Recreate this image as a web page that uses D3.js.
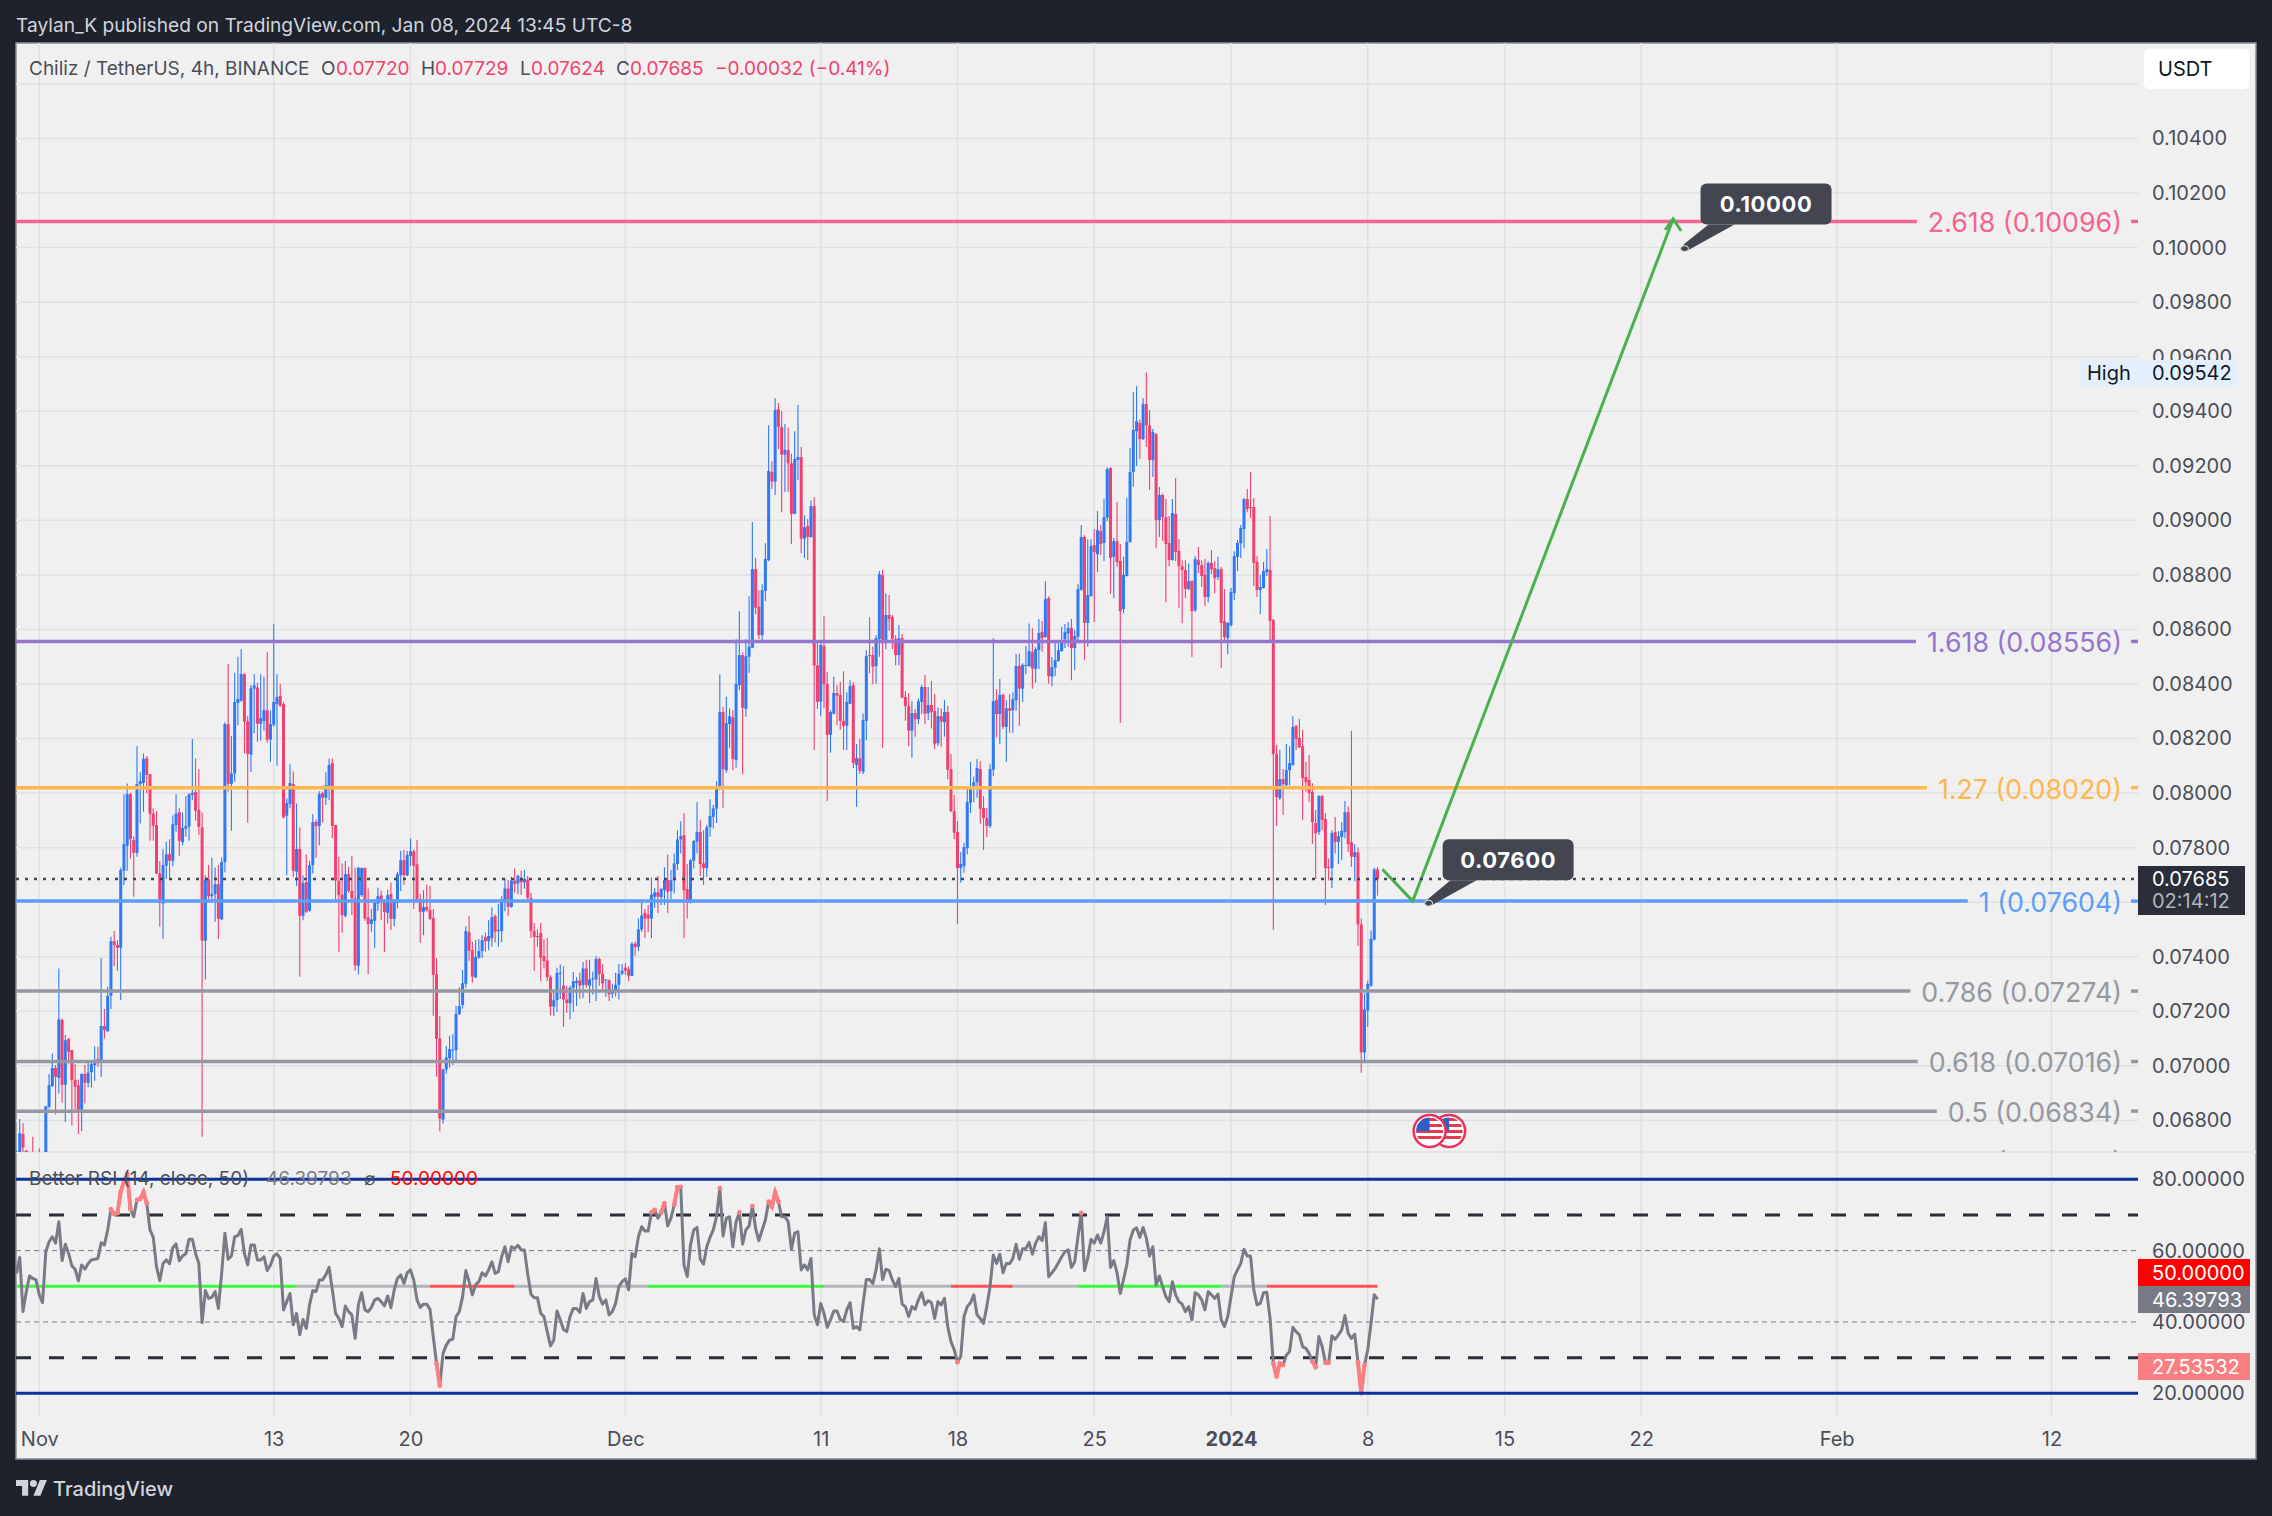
<!DOCTYPE html>
<html><head><meta charset="utf-8">
<script src="https://cdn.jsdelivr.net/npm/d3@7"></script>
<style>
html,body{margin:0;padding:0;background:#1e222d}
svg{display:block}
text{font-family:Inter,"Noto Sans",sans-serif}
</style></head><body><svg id="c" width="2272" height="1516"></svg>
<script>
// ---------- data (prices in 1e-5 USDT) ----------
const firstBar = -7;            // bars counted from Nov 1 00:00, 4h each
// [open, high, low, close]
const candles = [
[6680,6690,6670,6685],[6680,6805,6670,6753],[6750,6790,6680,6700],[6690,6685,6660,6670],[6670,6685,6650,6660],[6680,6740,6650,6665],[6665,6685,6640,6650],[6655,6697,6630,6640],[6640,6680,6620,6635],
[6635,6852,6625,6852],[6850,6970,6844,6929],[6926,7045,6923,6992],[6992,7003,6822,6960],[6956,7357,6899,7170],[7168,7174,6865,6931],[6931,7113,6794,7094],[7098,7103,7009,7052],[7058,7058,6781,6948],[6948,7006,6840,6923],
[6929,6950,6750,6838],[6840,6973,6761,6970],[6970,7003,6862,6938],[6938,7019,6921,6975],[6977,7021,6921,7006],[7003,7072,6945,7021],[7025,7070,6997,7012],[7011,7395,6960,7146],[7146,7208,7100,7131],[7127,7290,7125,7256],
[7257,7473,7208,7457],[7457,7494,7366,7443],[7443,7461,7349,7433],[7433,7726,7241,7718],[7715,7996,7663,7813],[7807,8035,7715,7996],[7996,8001,7760,7831],[7828,7842,7620,7781],[7781,8172,7767,8033],[8033,8076,7889,8044],
[8038,8145,7932,8125],[8128,8136,7999,8067],[8070,8070,7825,7924],[7925,7944,7825,7880],[7883,7934,7703,7705],[7705,7751,7510,7598],[7595,7795,7466,7736],[7734,7822,7685,7776],[7776,7831,7683,7752],[7752,7919,7732,7886],
[7883,7996,7858,7925],[7930,7944,7769,7825],[7820,7929,7809,7872],[7869,7989,7840,7879],[7877,7999,7825,7996],[7993,8198,7974,8001],[8004,8127,7899,7935],[7938,8088,7846,7877],[7874,7929,6740,7459],[7459,7699,7317,7683],
[7683,7736,7608,7622],[7622,7763,7608,7630],[7630,7727,7528,7666],[7666,7736,7466,7539],[7537,7764,7534,7747],[7747,8260,7710,8253],[8253,8473,8005,8034],[8034,8209,7862,8072],[8072,8441,8042,8334],[8331,8500,8249,8345],
[8339,8528,8335,8436],[8436,8439,8145,8262],[8263,8282,7891,8144],[8141,8396,8077,8384],[8383,8436,8219,8395],[8387,8405,8188,8254],[8254,8436,8192,8275],[8264,8427,8229,8304],[8304,8517,8185,8196],[8196,8302,8115,8253],
[8251,8620,8243,8334],[8326,8436,8100,8352],[8356,8400,8317,8320],[8326,8335,7907,7911],[7917,7980,7699,7963],[7960,8106,7944,8037],[8033,8079,7693,7715],[7712,7962,7660,7795],[7795,7874,7327,7550],[7550,7699,7534,7670],
[7674,7775,7560,7565],[7569,7752,7565,7736],[7736,7923,7705,7894],[7894,7903,7763,7879],[7879,8007,7809,7996],[8000,8005,7892,7983],[7983,8076,7956,8029],[8027,8127,7974,8103],[8110,8127,7835,7880],[7883,7883,7608,7679],
[7679,7767,7418,7626],[7628,7742,7488,7553],[7550,7751,7544,7703],[7703,7730,7635,7641],[7641,7769,7553,7614],[7614,7726,7349,7369],[7367,7730,7336,7726],[7626,7727,7620,7725],[7725,7727,7532,7540],[7544,7650,7336,7520],
[7521,7575,7492,7537],[7532,7608,7433,7598],[7595,7654,7569,7622],[7625,7642,7534,7600],[7604,7610,7418,7564],[7561,7647,7522,7626],[7630,7672,7498,7539],[7539,7610,7512,7602],[7598,7712,7577,7703],[7699,7789,7641,7754],
[7754,7791,7663,7699],[7699,7789,7695,7773],[7770,7834,7732,7787],[7787,7793,7575,7734],[7739,7828,7602,7608],[7611,7630,7451,7565],[7565,7644,7479,7582],[7582,7665,7565,7571],[7571,7659,7534,7539],[7542,7575,7184,7334],
[7336,7395,6960,7099],[7100,7182,6760,6807],[6803,6990,6789,6987],[6987,7074,6972,7031],[7028,7110,6994,7061],[7058,7116,7003,7060],[7058,7219,7015,7190],[7190,7287,7186,7219],[7223,7351,7210,7303],[7301,7512,7286,7494],
[7490,7549,7385,7422],[7424,7455,7305,7327],[7324,7461,7322,7399],[7396,7465,7394,7421],[7421,7479,7396,7461],[7472,7489,7418,7457],[7457,7534,7424,7476],[7468,7581,7437,7545],[7549,7556,7452,7492],[7494,7593,7437,7498],
[7494,7622,7454,7610],[7608,7687,7567,7650],[7650,7681,7549,7583],[7583,7693,7580,7679],[7679,7724,7635,7666],[7669,7701,7629,7697],[7685,7715,7626,7673],[7673,7718,7650,7685],[7683,7696,7600,7616],[7615,7635,7469,7494],
[7494,7524,7349,7473],[7476,7500,7437,7472],[7487,7524,7310,7397],[7402,7465,7357,7384],[7386,7469,7310,7325],[7325,7333,7185,7217],[7217,7278,7182,7241],[7241,7360,7198,7341],[7338,7372,7245,7341],[7294,7365,7143,7243],
[7243,7294,7195,7230],[7230,7294,7171,7286],[7286,7344,7198,7310],[7303,7325,7220,7312],[7313,7341,7246,7294],[7297,7381,7249,7357],[7357,7389,7286,7297],[7294,7389,7230,7317],[7317,7346,7262,7321],[7317,7402,7238,7392],
[7392,7397,7294,7337],[7338,7373,7278,7302],[7314,7317,7253,7317],[7314,7317,7238,7262],[7265,7301,7249,7278],[7278,7341,7254,7297],[7297,7373,7243,7338],[7338,7373,7333,7349],[7360,7376,7333,7349],[7354,7365,7310,7330],
[7330,7453,7329,7448],[7448,7456,7405,7435],[7437,7540,7421,7500],[7500,7604,7492,7551],[7561,7575,7469,7540],[7555,7590,7490,7540],[7540,7691,7469,7628],[7620,7651,7580,7636],[7636,7697,7560,7620],[7618,7651,7590,7648],
[7644,7728,7590,7681],[7681,7775,7560,7638],[7641,7718,7600,7681],[7681,7779,7632,7742],[7740,7864,7718,7830],[7830,7897,7779,7842],[7846,7926,7468,7644],[7648,7740,7540,7604],[7604,7758,7595,7754],[7752,7828,7724,7824],
[7822,7966,7779,7857],[7857,7901,7696,7740],[7742,7864,7663,7725],[7725,7883,7693,7875],[7875,7977,7840,7916],[7913,7956,7870,7944],[7943,8044,7891,8020],[8017,8436,8011,8297],[8297,8317,7946,8088],[8084,8353,8075,8256],
[8253,8311,8166,8282],[8278,8304,8084,8125],[8121,8564,8093,8400],[8396,8667,8378,8506],[8506,8516,8070,8313],[8309,8564,8280,8502],[8500,8722,8441,8537],[8533,8994,8531,8821],[8821,8863,8656,8680],[8683,8744,8565,8579],
[8579,8766,8559,8744],[8742,8916,8704,8858],[8854,9349,8850,9181],[9177,9217,9115,9142],[9142,9448,9093,9404],[9408,9430,9261,9343],[9342,9401,9030,9241],[9241,9353,9104,9258],[9258,9340,9105,9209],[9209,9243,8913,9024],
[9024,9327,9022,9225],[9221,9423,9148,9232],[9232,9269,8879,8933],[8933,9019,8862,8975],[8979,9005,8854,8939],[8939,9074,8936,9052],[9052,9085,8158,8468],[8468,8561,8308,8335],[8335,8549,8284,8543],[8539,8649,8311,8399],
[8400,8444,7971,8214],[8214,8304,8148,8297],[8291,8427,8288,8367],[8367,8396,8249,8357],[8359,8407,8231,8265],[8264,8447,8158,8247],[8247,8370,8158,8334],[8328,8414,8326,8392],[8396,8407,8091,8111],[8103,8180,7950,8128],
[8128,8198,8070,8082],[8078,8292,8070,8268],[8265,8524,8194,8502],[8506,8645,8439,8502],[8506,8537,8400,8463],[8466,8579,8402,8568],[8565,8814,8500,8803],[8799,8818,8165,8549],[8552,8732,8527,8653],[8653,8726,8595,8638],
[8645,8653,8528,8565],[8565,8579,8469,8506],[8506,8616,8469,8568],[8568,8583,8348,8350],[8352,8374,8265,8319],[8319,8366,8172,8229],[8229,8337,8130,8293],[8293,8308,8207,8271],[8271,8347,8253,8337],[8334,8396,8290,8389],
[8389,8433,8253,8291],[8293,8389,8268,8323],[8323,8411,8237,8298],[8301,8363,8161,8181],[8183,8314,8174,8282],[8282,8311,8170,8262],[8260,8341,8207,8297],[8297,8319,8051,8086],[8088,8143,7930,7934],[7934,7993,7831,7855],
[7857,7897,7520,7725],[7725,7784,7671,7740],[7732,7818,7708,7802],[7798,8022,7776,7967],[7965,8114,7927,8023],[8021,8060,7967,8040],[8040,8125,7983,8092],[8088,8117,7886,7943],[7945,7989,7791,7908],[7908,7945,7839,7880],
[7879,8106,7872,8088],[8086,8568,8062,8337],[8341,8381,8205,8290],[8290,8418,8180,8360],[8360,8365,8235,8243],[8243,8341,8115,8311],[8311,8363,8221,8302],[8304,8370,8221,8344],[8341,8510,8302,8466],[8466,8512,8247,8383],
[8383,8476,8335,8470],[8466,8539,8436,8470],[8466,8622,8462,8521],[8517,8604,8383,8456],[8456,8535,8405,8528],[8525,8638,8455,8587],[8591,8631,8517,8568],[8572,8777,8570,8711],[8715,8722,8401,8429],[8427,8499,8392,8462],
[8460,8549,8429,8488],[8485,8549,8482,8524],[8521,8610,8518,8561],[8564,8620,8532,8590],[8586,8627,8537,8605],[8605,8638,8414,8532],[8532,8598,8451,8576],[8573,8766,8561,8748],[8745,8983,8743,8939],[8939,8946,8488,8624],
[8624,8931,8537,8726],[8723,8931,8720,8906],[8909,8968,8627,8884],[8876,9034,8810,8964],[8961,8983,8873,8913],[8917,9078,8851,9012],[9010,9195,8997,9188],[9192,9195,8730,8862],[8866,8935,8715,8924],[8924,9067,8830,8847],
[8851,8913,8257,8667],[8675,8867,8659,8800],[8796,9082,8794,8921],[8921,9265,8918,9177],[9177,9470,9123,9331],[9327,9492,9199,9364],[9357,9370,9225,9298],[9298,9448,9295,9426],[9426,9542,9269,9348],[9348,9405,9111,9221],
[9221,9335,9159,9324],[9316,9320,8898,9001],[9001,9122,8939,9093],[9093,9098,8924,9012],[9012,9078,8700,8913],[8917,9016,8832,8855],[8855,9078,8852,9027],[9023,9155,8851,8884],[8888,8931,8678,8832],[8832,8854,8623,8818],
[8818,8854,8715,8748],[8748,8842,8745,8777],[8777,8781,8499,8667],[8671,8869,8664,8858],[8854,8902,8806,8836],[8836,8854,8757,8796],[8800,8858,8686,8719],[8719,8850,8700,8844],[8844,8891,8803,8821],[8825,8851,8733,8788],
[8792,8867,8781,8821],[8821,8829,8458,8624],[8630,8748,8561,8572],[8568,8627,8510,8624],[8615,8752,8611,8737],[8733,8887,8708,8869],[8866,8928,8814,8917],[8916,8983,8862,8972],[8968,9082,8898,9078],[9078,9115,9030,9041],
[9049,9177,9008,9047],[9049,9082,8759,8844],[8847,8869,8719,8745],[8745,8800,8657,8755],[8752,8847,8750,8814],[8810,8895,8796,8821],[8818,9016,8561,8631],[8634,8638,7499,8143],[8143,8176,7879,7986],[7982,8158,7975,8051],
[8051,8088,7920,8033],[8029,8180,8022,8084],[8084,8172,8029,8110],[8103,8282,8100,8242],[8246,8250,8158,8198],[8202,8272,8164,8168],[8172,8231,7901,8055],[8059,8114,8005,8040],[8048,8139,7967,8000],[8004,8036,7813,7894],
[7890,7938,7685,7853],[7857,7993,7846,7989],[7989,7993,7864,7901],[7905,7926,7590,7725],[7729,7760,7680,7727],[7725,7864,7651,7853],[7857,7912,7779,7821],[7821,7861,7740,7842],[7839,7894,7754,7861],[7857,7971,7834,7930],
[7930,7952,7784,7813],[7820,8228,7730,7767],[7766,7813,7677,7784],[7782,7800,7440,7519],[7519,7540,6975,7049],[7049,7265,7010,7207],[7203,7312,7142,7300],[7294,7496,7290,7466],[7463,7726,7460,7720],[7720,7729,7624,7685]
];
const rsiValues = [
53.6,58.1,42.9,48.5,52.9,52.2,51.8,47.6,45.4,59.7,62.5,63.9,62.1,68.1,57.2,61.8,59.2,55.7,54.8,51.5,56.0,54.8,56.4,57.4,57.6,57.8,62.2,61.6,65.8,71.6,70.3,70.5,76.5,79.3,81.5,71.6,69.5,74.2,74.5,76.4,73.3,65.8,63.7,55.5,51.6,56.4,57.4,56.3,60.8,61.9,57.2,58.5,59.1,63.2,63.2,59.2,56.4,39.8,48.8,46.6,46.9,48.5,43.8,53.6,64.9,57.6,58.5,63.9,64.2,66.0,59.2,56.0,61.6,61.6,57.4,57.4,58.3,54.4,56.0,58.5,59.1,57.8,43.4,45.7,48.0,39.2,42.4,36.4,40.7,38.2,44.8,48.8,48.5,51.8,51.8,53.2,55.3,49.0,42.4,41.0,38.7,44.5,42.9,42.0,35.4,44.8,48.2,43.4,42.9,44.1,46.2,46.6,45.7,44.5,47.3,44.0,49.0,52.2,53.2,50.8,53.8,54.6,51.8,46.2,44.1,45.0,45.0,43.5,35.9,28.4,22.1,31.2,33.5,34.9,35.2,41.5,42.9,47.1,54.4,51.3,47.6,50.4,51.3,53.8,52.9,54.6,56.9,53.6,54.1,58.3,61.1,56.9,61.1,60.6,61.5,60.2,60.2,53.5,47.8,46.8,46.8,42.4,41.5,37.3,33.3,34.9,43.1,40.6,37.9,37.3,41.5,43.8,43.8,42.7,48.0,43.8,45.7,46.2,52.2,47.1,45.0,46.2,42.0,42.9,45.2,49.9,51.3,52.1,49.0,59.2,58.3,63.9,66.7,65.5,65.5,70.7,71.4,69.1,70.7,73.3,66.9,69.1,72.8,77.8,77.9,56.0,52.7,61.6,65.8,66.5,57.6,56.2,61.1,63.7,65.8,69.5,77.5,64.1,69.1,69.5,61.1,68.1,70.7,61.8,65.8,66.9,72.5,66.2,62.8,65.8,68.6,73.7,72.3,76.3,73.7,69.5,69.5,68.1,60.4,64.9,65.3,54.6,56.0,54.6,57.8,42.0,39.2,45.2,42.4,38.5,40.6,43.1,43.1,40.7,40.1,43.4,45.4,38.2,38.7,37.8,45.2,51.9,51.9,50.8,54.6,60.5,51.9,54.8,54.4,51.8,49.9,52.2,45.0,44.3,41.5,44.3,43.5,46.2,48.2,44.8,46.0,45.4,41.0,45.7,44.8,46.6,38.7,34.5,32.2,28.7,30.3,41.5,44.3,45.4,47.6,42.0,41.0,39.6,44.3,49.9,58.8,56.4,59.0,53.8,56.4,56.3,57.8,61.8,57.6,60.5,60.6,62.3,59.0,62.1,63.9,62.8,67.8,52.7,53.8,55.0,56.6,58.3,59.7,60.2,55.3,56.9,63.9,70.6,54.4,57.8,63.2,62.1,64.4,62.1,65.3,69.5,55.3,57.2,53.8,48.0,51.9,56.0,63.0,65.8,66.4,63.7,66.5,63.5,58.5,61.1,50.4,52.9,49.9,47.1,45.7,51.3,47.6,45.7,45.0,42.9,44.3,40.6,48.2,47.6,46.2,43.4,48.5,47.6,46.6,47.8,40.6,38.7,41.5,47.1,52.7,54.6,56.4,60.4,58.5,58.5,49.0,44.8,45.2,48.2,48.3,41.0,28.4,24.7,28.4,27.9,30.7,31.7,38.5,37.3,36.4,33.1,32.6,31.2,28.9,27.3,35.9,33.1,28.6,28.6,36.1,35.1,36.4,37.8,41.8,36.8,35.4,36.6,28.7,20.0,27.9,32.2,39.6,47.6,46.4
];
const priceTicks = [0.104,0.102,0.100,0.098,0.096,0.094,0.092,0.090,0.088,0.086,0.084,0.082,0.080,0.078,0.074,0.072,0.070,0.068];
const priceGrid = [0.106,0.104,0.102,0.100,0.098,0.096,0.094,0.092,0.090,0.088,0.086,0.084,0.082,0.080,0.078,0.076,0.074,0.072,0.070,0.068];
const rsiTicks = [80,60,40,20];
const timeBars = [0,72,114,180,240,282,324,366,408,450,492,552,618];
const timeLabels = ["Nov","13","20","Dec","11","18","25","2024","8","15","22","Feb","12"];
const fibLevels = ["2.618","1.618","1.27","1","0.786","0.618","0.5","0.382"];
const fibPrices = [0.10096,0.08556,0.08020,0.07604,0.07274,0.07016,0.06834,0.06652];
const fibColors = ["#f46490","#9575cd","#ffb74d","#5e9ef8","#9598a1","#9598a1","#9598a1","#9598a1"];
const maFrom = [-7,79,120,146,187,241,280,299,319,363,377];
const maTo   = [79,120,146,187,241,280,299,319,363,377,411];
const maState= ["up","flat","down","flat","up","flat","down","flat","up","flat","down"];
const pathBars = [412.5,421.8,501.8];
const pathPrices = [0.07721,0.07604,0.10105];
const calloutBars = [426.7,505.3];
const calloutPrices = [0.07600,0.10000];
const flagBars = [433,427];

// ---------- layout ----------
const L=16,R=2138,PR=2256,T=43,B=1459,DIV=1152,AX=1416;
const up="#2f78f6",down="#f23f6e",ink="#4a4d58";
const x=d3.scaleLinear().domain([0,618]).range([39.3,2051.5]);
const y=d3.scaleLinear().domain([0.104,0.068]).range([138.5,1120.4]);
const yR=d3.scaleLinear().domain([80,20]).range([1179.3,1393.3]);
const svg=d3.select("#c");
const defs=svg.append("defs");
defs.append("clipPath").attr("id","cm").append("rect").attr("x",L).attr("y",T).attr("width",R-L).attr("height",DIV-T);
defs.append("clipPath").attr("id","cr").append("rect").attr("x",L).attr("y",DIV).attr("width",R-L).attr("height",AX-DIV);

svg.append("rect").attr("width",2272).attr("height",1516).attr("fill","#1e222d");
svg.append("rect").attr("x",L).attr("y",T).attr("width",PR-L).attr("height",B-T).attr("fill","#f0f0f0").attr("stroke","#8a8d96").attr("stroke-width",1.5);

// grid
svg.append("g").selectAll("line").data(priceGrid).join("line")
 .attr("x1",L).attr("x2",R).attr("y1",d=>y(d)).attr("y2",d=>y(d)).attr("stroke","#e0e1e3").attr("stroke-width",1.5);
svg.append("g").selectAll("line").data(timeBars).join("line")
 .attr("x1",d=>x(d)).attr("x2",d=>x(d)).attr("y1",T).attr("y2",AX).attr("stroke","#dfe0e2").attr("stroke-width",1.5);
svg.append("line").attr("x1",L).attr("x2",PR).attr("y1",DIV).attr("y2",DIV).attr("stroke","#dfe1e8").attr("stroke-width",1.5);

// main pane
const main=svg.append("g").attr("clip-path","url(#cm)");
const bars=candles.map((c,i)=>({k:firstBar+i,o:c[0]/1e5,h:c[1]/1e5,l:c[2]/1e5,c:c[3]/1e5}));
const col=d=>d.c>=d.o?up:down;
main.append("g").selectAll("line").data(bars).join("line")
 .attr("x1",d=>x(d.k)).attr("x2",d=>x(d.k)).attr("y1",d=>y(d.h)).attr("y2",d=>y(d.l))
 .attr("stroke",col).attr("stroke-width",1.1);
main.append("g").selectAll("rect").data(bars).join("rect")
 .attr("x",d=>x(d.k)-1.5).attr("width",3)
 .attr("y",d=>y(Math.max(d.o,d.c))).attr("height",d=>Math.max(1,Math.abs(y(d.o)-y(d.c))))
 .attr("fill",col);

// fib levels
const fibs=fibLevels.map((l,i)=>({l,p:fibPrices[i],c:fibColors[i]}));
const fg=main.append("g");
fg.selectAll("text").data(fibs).join("text")
 .attr("x",2122).attr("y",d=>y(d.p)+1).attr("text-anchor","end").attr("dominant-baseline","central")
 .attr("font-size",26.8).attr("fill",d=>d.c).text(d=>`${d.l} (${d.p.toFixed(5)})`)
 .each(function(d){d.w=this.getComputedTextLength();});
fg.selectAll("line.a").data(fibs).join("line").attr("class","a")
 .attr("x1",L).attr("x2",d=>2122-d.w-11).attr("y1",d=>y(d.p)).attr("y2",d=>y(d.p)).attr("stroke",d=>d.c).attr("stroke-width",3.5);
fg.selectAll("line.b").data(fibs).join("line").attr("class","b")
 .attr("x1",2131).attr("x2",R).attr("y1",d=>y(d.p)).attr("y2",d=>y(d.p)).attr("stroke",d=>d.c).attr("stroke-width",3.5);

// last price line
const last=bars[bars.length-1];
svg.append("line").attr("x1",L).attr("x2",R).attr("y1",y(last.c)).attr("y2",y(last.c))
 .attr("stroke","#434651").attr("stroke-width",2.5).attr("stroke-dasharray","3 6");

// projected path
const pathPts=pathBars.map((b,i)=>[x(b),y(pathPrices[i])]);
main.append("path").attr("d",d3.line()(pathPts)).attr("fill","none").attr("stroke","#4caf50").attr("stroke-width",3).attr("stroke-linejoin","round");
const tip=pathPts[2];
main.append("path").attr("d",d3.line()([[tip[0]-8,tip[1]+11],tip,[tip[0]+8,tip[1]+12]])).attr("fill","none").attr("stroke","#4caf50").attr("stroke-width",3);

// callouts
const boxes=[{dx:14,dy:-63,w:131,h:41},{dx:16,dy:-64,w:131,h:41}];
calloutBars.forEach((b,i)=>{
 const ax=x(b),ay=y(calloutPrices[i]),o=boxes[i],bx=ax+o.dx,by=ay+o.dy;
 const g=main.append("g");
 g.append("path").attr("d",`M${ax-1} ${ay-3}L${bx+8} ${by+o.h}L${bx+34} ${by+o.h}L${ax+3} ${ay+3}Z`).attr("fill","#434651");
 g.append("rect").attr("x",bx).attr("y",by).attr("width",o.w).attr("height",o.h).attr("rx",6).attr("fill","#434651");
 g.append("ellipse").attr("cx",ax).attr("cy",ay+1).attr("rx",4).attr("ry",3).attr("fill","#434651").attr("stroke","#e8e8e8").attr("stroke-width",1);
 g.append("text").attr("x",bx+o.w/2).attr("y",by+o.h/2).attr("text-anchor","middle").attr("dominant-baseline","central")
  .attr("font-size",22).attr("font-weight",700).attr("fill","#fff").attr("letter-spacing",.6).text(calloutPrices[i].toFixed(5));
});

// event flags
flagBars.forEach((b,i)=>{
 const cx=x(b),cy=1131,id="fl"+i;
 defs.append("clipPath").attr("id",id).append("circle").attr("cx",cx).attr("cy",cy).attr("r",13.5);
 const g=svg.append("g");
 g.append("circle").attr("cx",cx).attr("cy",cy).attr("r",16).attr("fill","#fff").attr("stroke","#e8335f").attr("stroke-width",2.5);
 const f=g.append("g").attr("clip-path",`url(#${id})`);
 [0,6,12,18].forEach(o=>f.append("rect").attr("x",cx-15).attr("y",cy-13+o).attr("width",30).attr("height",3).attr("fill","#e23b4e"));
 f.append("rect").attr("x",cx-15).attr("y",cy-15).attr("width",15).attr("height",15).attr("fill","#2f5fc4");
});

// RSI pane
const rp=svg.append("g").attr("clip-path","url(#cr)");
[30,70].forEach(v=>rp.append("line").attr("x1",L).attr("x2",R).attr("y1",yR(v)).attr("y2",yR(v)).attr("stroke","#2a2e39").attr("stroke-width",3).attr("stroke-dasharray","15 18"));
[40,60].forEach(v=>rp.append("line").attr("x1",L).attr("x2",R).attr("y1",yR(v)).attr("y2",yR(v)).attr("stroke","#787b86").attr("stroke-width",1).attr("stroke-dasharray","5 4"));
const maColor={up:"#38fb3e",flat:"#b4b5bb",down:"#ff5252"};
rp.append("g").selectAll("line").data(maFrom.map((f,i)=>({f,t:maTo[i],s:maState[i]}))).join("line")
 .attr("x1",d=>x(d.f)).attr("x2",d=>x(d.t)).attr("y1",yR(50)).attr("y2",yR(50)).attr("stroke",d=>maColor[d.s]).attr("stroke-width",3);
const rsi=rsiValues.map((v,i)=>({k:firstBar+i,v}));
const ext=d=>d.v>70||d.v<30;
const ln=d3.line().x(d=>x(d.k)).y(d=>yR(d.v));
rp.append("path").attr("d",ln(rsi)).attr("fill","none").attr("stroke","#787b86").attr("stroke-width",3).attr("stroke-linejoin","round");
rp.append("path").attr("d",ln.defined(ext)(rsi)).attr("fill","none").attr("stroke","#fa7f83").attr("stroke-width",4);
rp.append("g").selectAll("circle").data(rsi.filter(ext)).join("circle").attr("cx",d=>x(d.k)).attr("cy",d=>yR(d.v)).attr("r",2.4).attr("fill","#fa7f83");
[20,80].forEach(v=>svg.append("line").attr("x1",L).attr("x2",R).attr("y1",yR(v)).attr("y2",yR(v)).attr("stroke","#0c3299").attr("stroke-width",3));

// axes
function styleAxis(g,fs){g.select(".domain").remove();g.selectAll(".tick line").remove();g.selectAll("text").attr("font-size",fs).attr("fill",ink).style("font-family",'Inter,"Noto Sans",sans-serif');}
svg.append("g").attr("transform",`translate(${R},0)`).call(d3.axisRight(y).tickValues(priceTicks).tickSize(0).tickPadding(14).tickFormat(d3.format(".5f"))).call(styleAxis,20);
svg.append("g").attr("transform",`translate(${R},0)`).call(d3.axisRight(yR).tickValues(rsiTicks).tickSize(0).tickPadding(14).tickFormat(d3.format(".5f"))).call(styleAxis,20);
const tAxis=svg.append("g").attr("transform",`translate(0,${AX})`).call(d3.axisBottom(x).tickValues(timeBars).tickSize(0).tickPadding(16).tickFormat(d=>timeLabels[timeBars.indexOf(d)])).call(styleAxis,20);
tAxis.selectAll("text").attr("font-weight",d=>d===366?700:400);

function txt(sx,sy,s,fs,fill,opt={}){const t=svg.append("text").attr("x",sx).attr("y",sy).attr("dominant-baseline","central").attr("font-size",fs).attr("fill",fill).text(s);if(opt.w)t.attr("font-weight",opt.w);if(opt.a)t.attr("text-anchor",opt.a);return t;}
function tag(yy,h,bg,lines,w=112){svg.append("rect").attr("x",R).attr("y",yy).attr("width",w).attr("height",h).attr("fill",bg);lines.forEach(l=>txt(R+14,l[1],l[0],20,l[2]));}

// header and legends
txt(16,25,"Taylan_K published on TradingView.com, Jan 08, 2024 13:45 UTC-8",19.15,"#d1d4dc");
txt(29,68,"Chiliz / TetherUS, 4h, BINANCE",19,ink);
const ohlc=[["O",321,336,"0.07720"],["H",421,435,"0.07729"],["L",520,531,"0.07624"],["C",616,630,"0.07685"]];
ohlc.forEach(o=>{txt(o[1],68,o[0],19,ink);txt(o[2],68,o[3],19,"#f23f6e");});
txt(715,68,"−0.00032 (−0.41%)",19,"#f23f6e");
txt(29,1178,"Better RSI (14, close, 50)",19,ink);
txt(266,1178,"46.39793",19,"#787b86");
txt(364,1178,"⌀",19,ink);
txt(390,1178,"50.00000",19,"#ff0000");

// USDT button
svg.append("rect").attr("x",2144).attr("y",49).attr("width",105).attr("height",40).attr("rx",5).attr("fill","#fff");
txt(2158,69,"USDT",20,"#131722");

// high tag
svg.append("rect").attr("x",2079).attr("y",360).attr("width",158).attr("height",27).attr("rx",2).attr("fill","#e3effd");
svg.append("line").attr("x1",2137.5).attr("x2",2137.5).attr("y1",360).attr("y2",387).attr("stroke","#f0f0f0").attr("stroke-width",1);
txt(2087,373,"High",20,"#131722");
txt(2152,373,"0.09542",20,"#131722");

// price tags
tag(866,49,"#2a2e39",[["0.07685",879,"#fff"],["02:14:12",901,"#b2b5be"]],107);
tag(1259,27,"#ff0000",[["50.00000",1272.5,"#fff"]]);
tag(1286,27,"#787b86",[["46.39793",1299.5,"#fff"]]);
tag(1353,27,"#fa7f83",[["27.53532",1366.5,"#fff"]]);

// footer logo
svg.append("g").attr("transform","translate(16,1476.5) scale(.87)").attr("fill","#d1d4dc")
 .call(g=>{g.append("path").attr("d","M14 22H7V11H0V4h14v18zM28 22h-8l7.5-18h8L28 22z");g.append("circle").attr("cx",20).attr("cy",8).attr("r",4);});
txt(53,1489,"TradingView",20,"#d1d4dc",{w:500});
</script></body></html>
